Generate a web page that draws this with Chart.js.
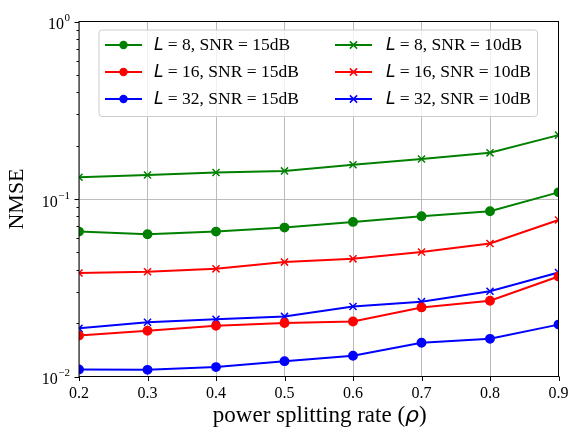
<!DOCTYPE html>
<html>
<head>
<meta charset="utf-8">
<script src="https://cdn.jsdelivr.net/npm/chart.js@4.4.1/dist/chart.umd.min.js"></script>
<style>
  html, body { margin: 0; padding: 0; background: #fff; }
  #wrap { width: 569px; height: 428px; position: relative; }
</style>
</head>
<body>
<div id="wrap"><canvas id="Chart1"></canvas></div>
<script>
// power splitting rate values (x axis)
const rho = [0.2, 0.3, 0.4, 0.5, 0.6, 0.7, 0.8, 0.9];

// NMSE, SNR = 15dB (circles)
const nmseL8_15  = [0.0655, 0.0633, 0.0655, 0.0690, 0.0743, 0.0800, 0.0853, 0.1090];
const nmseL16_15 = [0.0170, 0.0181, 0.0193, 0.0200, 0.0204, 0.0245, 0.0267, 0.0366];
const nmseL32_15 = [0.01094, 0.0109, 0.0113, 0.0122, 0.0131, 0.0155, 0.0163, 0.0196];

// SNR = 10dB (crosses)
const nmseL8_10  = [0.1325, 0.1365, 0.1410, 0.1440, 0.1560, 0.1680, 0.1820, 0.2290];
const nmseL16_10 = [0.0383, 0.0389, 0.0404, 0.0441, 0.0460, 0.0503, 0.0561, 0.0762];
const nmseL32_10 = [0.01867, 0.0202, 0.0210, 0.0218, 0.0248, 0.0264, 0.0302, 0.0385];

const xTicks = [0.2, 0.3, 0.4, 0.5, 0.6, 0.7, 0.8, 0.9];
const yDecades = [0.01, 0.1, 1];
const yDecadeLabels = ['\u22122', '\u22121', '0'];

const SERIF = '"Liberation Serif", "Times New Roman", serif';
const MATH = '"DejaVu Sans", sans-serif';

function toPoints(ys) {
    return rho.map(function(x, i) { return {x: x, y: ys[i]}; });
}

function isDecade(v) {
    const l = Math.log10(v);
    return Math.abs(l - Math.round(l)) < 1e-6;
}

const series = [
    {L: '8',  snr: '15dB', color: '#008000', mark: 'circle',   data: nmseL8_15},
    {L: '16', snr: '15dB', color: '#ff0000', mark: 'circle',   data: nmseL16_15},
    {L: '32', snr: '15dB', color: '#0000ff', mark: 'circle',   data: nmseL32_15},
    {L: '8',  snr: '10dB', color: '#008000', mark: 'crossRot', data: nmseL8_10},
    {L: '16', snr: '10dB', color: '#ff0000', mark: 'crossRot', data: nmseL16_10},
    {L: '32', snr: '10dB', color: '#0000ff', mark: 'crossRot', data: nmseL32_10}
];

// axes frame, ticks, tick labels, titles, legend (matplotlib look)
const mplDecor = {
    id: 'mplDecor',
    afterDatasetsDraw(chart) {
        const ctx = chart.ctx;
        const a = chart.chartArea;
        const xs = chart.scales.x, ys = chart.scales.y;
        ctx.save();

        // frame
        ctx.strokeStyle = '#000';
        ctx.lineWidth = 1;
        ctx.strokeRect(a.left, a.top, a.right - a.left, a.bottom - a.top);

        // x ticks
        ctx.beginPath();
        xTicks.forEach(function(v) {
            const px = Math.round(xs.getPixelForValue(v)) + 0.5;
            ctx.moveTo(px, a.bottom);
            ctx.lineTo(px, a.bottom + 4.5);
        });
        // y ticks, major and minor
        ys.ticks.forEach(function(t) {
            const py = Math.round(ys.getPixelForValue(t.value)) + 0.5;
            const len = isDecade(t.value) ? 4.5 : 2.5;
            ctx.moveTo(a.left, py);
            ctx.lineTo(a.left - len, py);
        });
        ctx.stroke();

        ctx.fillStyle = '#000';
        ctx.font = '16px ' + SERIF;
        ctx.textAlign = 'center';
        ctx.textBaseline = 'alphabetic';
        xTicks.forEach(function(v) {
            ctx.fillText(v.toFixed(1), xs.getPixelForValue(v), a.bottom + 21);
        });

        // y decade labels 10^n
        yDecades.forEach(function(v, i) {
            const py = ys.getPixelForValue(v);
            const right = a.left - 9;
            ctx.font = '11px ' + SERIF;
            const sw = ctx.measureText(yDecadeLabels[i]).width;
            ctx.textAlign = 'left';
            ctx.fillText(yDecadeLabels[i], right - sw, py - 0.5);
            ctx.font = '16px ' + SERIF;
            ctx.textAlign = 'right';
            ctx.fillText('10', right - sw - 0.5, py + 7.5);
        });

        // y title
        ctx.save();
        ctx.translate(17, (a.top + a.bottom) / 2);
        ctx.rotate(-Math.PI / 2);
        ctx.font = '22px ' + SERIF;
        ctx.textAlign = 'center';
        ctx.textBaseline = 'middle';
        ctx.fillText('NMSE', 0, 0);
        ctx.restore();

        // x title with italic rho
        const parts = [
            ['power splitting rate (', '23px ' + SERIF],
            ['\u03c1', 'italic 22px ' + MATH],
            [')', '23px ' + SERIF]
        ];
        let total = 0;
        parts.forEach(function(p) { ctx.font = p[1]; total += ctx.measureText(p[0]).width; });
        let tx = (a.left + a.right) / 2 + 1 - total / 2;
        ctx.textAlign = 'left';
        ctx.textBaseline = 'alphabetic';
        parts.forEach(function(p) {
            ctx.font = p[1];
            ctx.fillText(p[0], tx, 422);
            tx += ctx.measureText(p[0]).width;
        });

        // legend
        const bx = 99, by = 30, bw = 438.5, bh = 86.5;
        ctx.beginPath();
        if (ctx.roundRect) ctx.roundRect(bx, by, bw, bh, 3); else ctx.rect(bx, by, bw, bh);
        ctx.fillStyle = 'rgba(255,255,255,0.8)';
        ctx.fill();
        ctx.strokeStyle = '#cccccc';
        ctx.lineWidth = 1;
        ctx.stroke();

        const rows = [45, 72, 99];
        const cols = [{h: 105, t: 154}, {h: 335, t: 386}];
        series.forEach(function(s, i) {
            const col = cols[Math.floor(i / 3)];
            const y = rows[i % 3];
            ctx.strokeStyle = s.color;
            ctx.fillStyle = s.color;
            ctx.lineWidth = 2;
            ctx.beginPath();
            ctx.moveTo(col.h, y);
            ctx.lineTo(col.h + 37, y);
            ctx.stroke();
            const mx = col.h + 18.5;
            if (s.mark === 'circle') {
                ctx.beginPath();
                ctx.arc(mx, y, 4.2, 0, Math.PI * 2);
                ctx.fill();
            } else {
                ctx.lineWidth = 1.5;
                ctx.beginPath();
                ctx.moveTo(mx - 3.6, y - 3.6); ctx.lineTo(mx + 3.6, y + 3.6);
                ctx.moveTo(mx - 3.6, y + 3.6); ctx.lineTo(mx + 3.6, y - 3.6);
                ctx.stroke();
            }
            ctx.fillStyle = '#000';
            ctx.textAlign = 'left';
            ctx.font = 'italic 17px ' + MATH;
            ctx.fillText('L', col.t, y + 5);
            const lw = ctx.measureText('L').width;
            ctx.font = '17.5px ' + SERIF;
            ctx.fillText(' = ' + s.L + ', SNR = ' + s.snr, col.t + lw, y + 5);
        });

        ctx.restore();
    }
};

document.addEventListener("DOMContentLoaded", function() {
    new Chart(document.getElementById('Chart1'), {
        type: 'line',
        plugins: [mplDecor],
        data: {
            datasets: series.map(function(s) {
                return {
                    data: toPoints(s.data),
                    borderColor: s.color,
                    backgroundColor: s.color,
                    borderWidth: 2,
                    pointStyle: s.mark,
                    pointRadius: s.mark === 'circle' ? 4.2 : 5,
                    pointBorderWidth: 1.5,
                    pointBackgroundColor: s.color,
                    pointBorderColor: s.color,
                    tension: 0,
                    fill: false,
                    clip: 0
                };
            })
        },
        options: {
            responsive: true,
            maintainAspectRatio: false,
            animation: false,
            events: [],
            layout: {
                padding: {left: 79, right: 10.5, top: 21.5, bottom: 51.5}
            },
            scales: {
                x: {
                    type: 'linear',
                    min: 0.2,
                    max: 0.9,
                    ticks: {display: false, stepSize: 0.1},
                    grid: {color: 'rgba(176,176,176,0.85)', lineWidth: 1, drawTicks: false},
                    border: {display: false}
                },
                y: {
                    type: 'logarithmic',
                    min: 0.01,
                    max: 1,
                    afterBuildTicks: function(scale) {
                        const t = [];
                        [0.01, 0.1].forEach(function(d) {
                            for (let k = 1; k <= 9; k++) t.push({value: +(d * k).toPrecision(6)});
                        });
                        t.push({value: 1});
                        scale.ticks = t;
                    },
                    ticks: {display: false},
                    grid: {
                        color: function(c) {
                            return c.tick && isDecade(c.tick.value) ? 'rgba(176,176,176,0.85)' : 'rgba(0,0,0,0)';
                        },
                        lineWidth: 1,
                        drawTicks: false
                    },
                    border: {display: false}
                }
            },
            plugins: {
                legend: {display: false},
                tooltip: {enabled: false}
            }
        }
    });
});
</script>
</body>
</html>
